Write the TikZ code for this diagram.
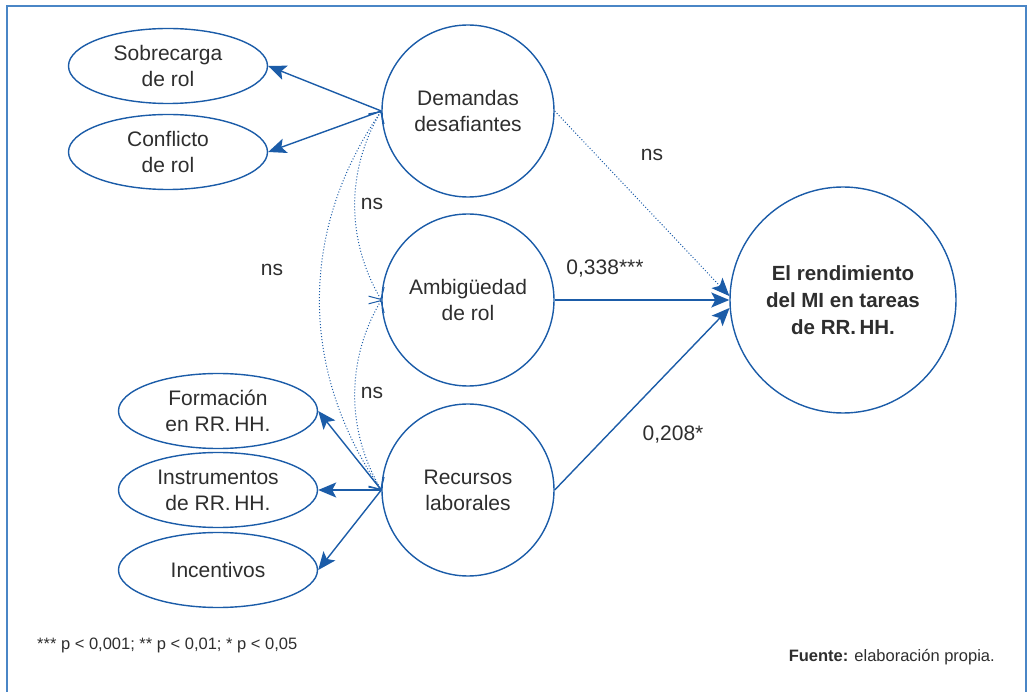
\documentclass[tikz,border=0pt]{standalone}
\usepackage{fontspec}
\setmainfont{Liberation Sans}
\usetikzlibrary{arrows.meta,shapes.geometric}
\definecolor{TextGray}{HTML}{2E2E2E}
\definecolor{PathBlue}{HTML}{1B5CA8}
\definecolor{FrameBlue}{HTML}{4A86C6}
\tikzset{
  semLatent/.style={circle,draw=PathBlue,line width=1.4pt,minimum size=172pt,inner sep=0pt,
    align=center,text=TextGray,font=\fontsize{21}{26}\selectfont},
  semOutcome/.style={semLatent,minimum size=226pt,font=\bfseries\fontsize{20.5}{27}\selectfont},
  semIndicator/.style={ellipse,draw=PathBlue,line width=1.4pt,minimum width=199pt,minimum height=75pt,
    inner sep=0pt,align=center,text=TextGray,font=\fontsize{21}{26}\selectfont},
  loading/.style={-{Stealth[length=18pt,width=15pt,inset=4pt]},draw=PathBlue,line width=1.4pt},
  effect/.style={loading},
  effectNs/.style={loading,line width=1pt,dash pattern=on 1pt off 2pt},
  covNs/.style={{Straight Barb[length=9pt,width=18pt]}-{Straight Barb[length=9pt,width=18pt]},
    draw=PathBlue,line width=1pt,dash pattern=on 1pt off 2pt},
  pathLabel/.style={text=TextGray,font=\fontsize{21}{24}\selectfont},
  noteText/.style={text=TextGray,font=\fontsize{16.5}{19}\selectfont,inner sep=0pt}
}

\begin{document}
\begin{tikzpicture}[x=1pt,y=-1pt]
  \useasboundingbox (0,0) rectangle (1029,692);
  % Frame
  \draw[FrameBlue,line width=2.2pt] (7,700) -- (7,6) -- (1026,6) -- (1026,700);

  % Latent constructs
  \node[semLatent] (dem) at (468,111) {Demandas\\desafiantes};
  \node[semLatent] (amb) at (468,300) {Ambigüedad\\de rol};
  \node[semLatent] (rec) at (468,490) {Recursos\\laborales};
  \node[semOutcome] (rend) at (843,300) {El rendimiento\\del MI en tareas\\de RR.\,HH.};

  % Indicators
  \node[semIndicator] (sob) at (168,66) {Sobrecarga\\de rol};
  \node[semIndicator] (con) at (168,152) {Conflicto\\de rol};
  \node[semIndicator] (form) at (218,411) {Formación\\en RR.\,HH.};
  \node[semIndicator] (inst) at (218,490) {Instrumentos\\de RR.\,HH.};
  \node[semIndicator] (inc) at (218,570) {Incentivos};
  \draw[loading] (dem.west) -- (sob.east); \draw[loading] (dem.west) -- (con.east);
  \draw[loading] (rec.west) -- (form.east); \draw[loading] (rec.west) -- (inst.east);
  \draw[loading] (rec.west) -- (inc.east);

  % Structural paths
  \draw[effectNs] (dem.east) -- (rend.178);
  \draw[effect] (amb.east) -- (rend.west);
  \draw[effect] (rec.east) -- (rend.184);
  \node[pathLabel] (nsDR) at (652,155) {ns};
  \node[pathLabel] (bAmb) at (605,269) {0,338***};
  \node[pathLabel] (bRec) at (673,435) {0,208*};

  % Correlations among constructs
  \draw[covNs] (dem.west) .. controls (346,170) and (346,240) .. (amb.west);
  \draw[covNs] (amb.west) .. controls (346,360) and (346,430) .. (rec.west);
  \draw[covNs] (dem.west) .. controls (299,230) and (299,370) .. (rec.west);
  \node[pathLabel] (nsDA) at (372,204) {ns};
  \node[pathLabel] (nsAR) at (372,393) {ns};
  \node[pathLabel] (nsDRec) at (272,270) {ns};

  % Notes
  \node[noteText,anchor=west] (sig) at (37,645) {*** p < 0,001; ** p < 0,01; * p < 0,05};
  \node[noteText,anchor=east] (src) at (995,657) {\textbf{Fuente:} elaboración propia.};
\end{tikzpicture}
\end{document}
